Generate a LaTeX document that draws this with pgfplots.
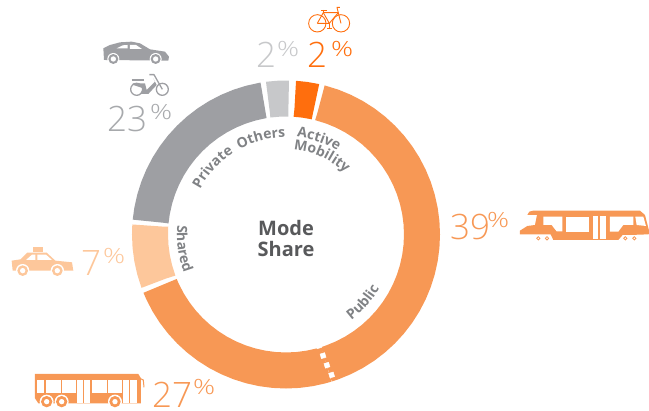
\documentclass[border=0pt]{standalone}
\usepackage{fontspec}
\usepackage{pgfplots}
\pgfplotsset{compat=1.18}
\usetikzlibrary{decorations.text}
\setmainfont{Open Sans}
\newfontfamily\lightf{Open Sans Light}
\definecolor{cActive}{HTML}{FF6E0D}
\definecolor{cPublic}{HTML}{F79855}
\definecolor{cShared}{HTML}{FDC79B}
\definecolor{cPrivate}{HTML}{9E9FA3}
\definecolor{cOthers}{HTML}{C7C8CA}
\definecolor{tPrivate}{HTML}{A7A9AC}
\definecolor{tLabel}{HTML}{808285}
\definecolor{tMode}{HTML}{58595B}
\newcommand\pnum[6]{%
  \node[anchor=base west,inner sep=0pt,text=#6,font=\lightf\fontsize{35}{35}\selectfont] at (#1,#2) {#3};
  \node[anchor=base west,inner sep=0pt,text=#6,font=\lightf\fontsize{21}{21}\selectfont] at (#4,#5) {\scalebox{1.3}[1]{\%}};}
\newcommand\arclabel[4]{%
  \path[decorate,decoration={text along path,text align=center,
    text={|\bfseries\fontsize{14}{14}\selectfont\color{tLabel}|#1}}]
    ([shift={(#2:#4pt)}]C) arc[start angle=#2,end angle=#3,radius=#4pt];}
\tikzset{
  zA/.style={x=.3333pt,y=-.3333pt,shift={(90pt,411pt)}},
  zB/.style={x=.3333pt,y=-.3333pt,shift={(440pt,221pt)}},
  zC/.style={x=.3333pt,y=-.3333pt,shift={(0pt,181pt)}},
}
\begin{document}
\begin{tikzpicture}
\path[use as bounding box] (0,0) rectangle (649pt,411pt);
\begin{axis}[at={(0,0)},anchor=south west,scale only axis,width=649pt,height=411pt,
  xmin=-286,xmax=363,ymin=-176.5,ymax=234.5,hide axis,clip=false]
% Active Mobility 2%
\addplot[cActive,line width=36pt,no marks,data cs=polar] coordinates {(86.2,136)(86,136)(82,136)(77.7,136)(77.5,136)};
% Public 39%
\addplot[cPublic,line width=36pt,no marks,data cs=polar] coordinates {(75.5,136)(75.3,136)(70,136)(65,136)(60,136)(55,136)(50,136)(45,136)(40,136)(35,136)(30,136)(25,136)(20,136)(15,136)(10,136)(5,136)(0,136)(-5,136)(-10,136)(-15,136)(-20,136)(-25,136)(-30,136)(-35,136)(-40,136)(-45,136)(-50,136)(-55,136)(-60,136)(-65,136)(-70,136)(-72.5,136)(-72.7,136)};
% Public 27%
\addplot[cPublic,line width=36pt,no marks,data cs=polar] coordinates {(-72.7,136)(-75,136)(-80,136)(-85,136)(-90,136)(-95,136)(-100,136)(-105,136)(-110,136)(-115,136)(-120,136)(-125,136)(-130,136)(-135,136)(-140,136)(-145,136)(-150,136)(-155,136)(-157.6,136)(-157.8,136)};
% Shared 7%
\addplot[cShared,line width=36pt,no marks,data cs=polar] coordinates {(-159.8,136)(-160,136)(-165,136)(-170,136)(-175,136)(-180,136)(-183.5,136)(-183.7,136)};
% Private 23%
\addplot[cPrivate,line width=36pt,no marks,data cs=polar] coordinates {(-185.5,136)(-185.7,136)(-190,136)(-195,136)(-200,136)(-205,136)(-210,136)(-215,136)(-220,136)(-225,136)(-230,136)(-235,136)(-240,136)(-245,136)(-250,136)(-255,136)(-260,136)(-260.3,136)(-260.5,136)};
% Others 2%
\addplot[cOthers,line width=36pt,no marks,data cs=polar] coordinates {(97.5,136)(97.3,136)(93,136)(89.1,136)(88.9,136)};
% divider
\addplot[only marks,mark=square*,mark size=2.4pt,white,mark options={fill=white,draw=white,rotate=17},data cs=polar] coordinates {(-73.6,116)(-73,126.7)(-72.6,137)(-72,147.7)};
\end{axis}
\coordinate (C) at (286pt,176.5pt);
\arclabel{Private}{154}{121}{97}
\arclabel{Others}{119}{90}{97}
\arclabel{Active}{85}{57}{98}
\arclabel{Mobility}{87}{44}{85}
\arclabel{Shared}{175}{201}{109}
\arclabel{Public}{-53}{-30}{108}
\begin{scope}[x=1pt,y=-1pt,shift={(0pt,411pt)}]
\node[align=center,text=tMode,inner sep=0pt,font=\bfseries\fontsize{20}{21.5}\selectfont] at (286,238.5) {Mode\\Share};
\pnum{450}{240}{39}{487}{228}{cPublic}
\pnum{152}{408}{27}{193}{395}{cPublic}
\pnum{81}{276}{7}{103}{264}{cShared}
\pnum{107}{132}{23}{150}{120}{tPrivate}
\pnum{256}{68}{2}{277}{57}{cOthers}
\pnum{307}{68}{2}{331}{57}{cActive}
\end{scope}
% bicycle
\begin{scope}[zA,cActive,line width=.9pt,line join=round]
\draw (682,70) circle[radius=26];
\draw (753,70) circle[radius=26];
\draw (682,70)--(700,38)--(745,38)--(753,70);
\draw (682,70)--(718,70)--(700,38);
\draw (718,70)--(745,38);
\draw (693,30)--(712,30);\draw (700,30)--(700,38);
\draw (745,38)--(741,22)--(750,22);
\draw (712,85)--(726,85);\draw (718,70)--(718,85);
\end{scope}
% car
\begin{scope}[zA]
\fill[cPrivate] (42,180)--(40,145)--(60,135)--(90,127)--(125,125)--(150,130)--(180,148)--(225,155)--(237,170)--(235,182)--cycle;
\fill[white] (80,145)--(98,136)--(113,135)--(113,145)--cycle;
\fill[white] (120,135)--(138,135)--(156,147)--(120,147)--cycle;
\foreach \x in {70,197}{\fill[white] (\x,177) circle[radius=18];
 \fill[cPrivate] (\x,177) circle[radius=15];\fill[white] (\x,177) circle[radius=8];}
\end{scope}
% scooter
\begin{scope}[zA,cPrivate,line width=1.3pt,line join=round]
\draw (140,268) circle[radius=18];
\draw (217,268) circle[radius=18];
\draw[line width=2pt] (125,240)--(162,240);
\fill (128,250)--(165,250)--(170,270)--(195,245)--(190,235)--(200,255)--(175,282)--(150,282)--(160,265)--(130,255)--cycle;
\draw (178,224)--(192,224)--(217,268);
\end{scope}
% taxi
\begin{scope}[zC,y=-.3333pt]
\fill[cShared] (98,50)--(130,50)--(130,66)--(98,66)--cycle;
\fill[cShared] (38,122)--(35,92)--(62,88)--(82,68)--(140,68)--(166,92)--(216,97)--(220,122)--cycle;
\fill[white] (78,90)--(96,74)--(106,74)--(106,90)--cycle;
\fill[white] (112,74)--(138,74)--(156,90)--(112,90)--cycle;
\foreach \x in {68,172}{\fill[white] (\x,122) circle[radius=20];
 \fill[cShared] (\x,122) circle[radius=16];\fill[white] (\x,122) circle[radius=8];}
\end{scope}
% bus
\begin{scope}[zC]
\fill[cPublic] (105,432)--(415,432)--(423,445)--(423,520)--(115,520)--(105,505)--cycle;
\fill[white] (112,450) rectangle (133,490);
\fill[white] (137,450) rectangle (182,490);
\fill[white] (186,450) rectangle (228,490);
\fill[white] (232,450) rectangle (250,520);
\fill[white] (253,450) rectangle (270,520);
\fill[white] (275,450) rectangle (320,490);
\fill[white] (323,450) rectangle (365,490);
\fill[white] (369,450) rectangle (388,520);
\fill[white] (391,450) rectangle (412,520);
\foreach \x in {140,185,345}{\fill[white] (\x,515) circle[radius=21];
 \fill[cPublic] (\x,515) circle[radius=17];\fill[white] (\x,515) circle[radius=8];}
\draw[cPublic,line width=1pt] (420,445)--(430,450)--(432,472);
\end{scope}
% tram
\begin{scope}[zB]
\fill[cPublic] (240,133)--(240,122)--(262,108)--(285,105)--(291,75)--(262,75)--(268,65)--(280,62)--(600,62)--(615,75)--(628,125)--(626,133)--(570,135)--(548,135)--(535,150)--(340,150)--(332,133)--cycle;
\fill[white] (310,80)--(367,80)--(367,124)--(350,124)--(335,105)--(310,105)--cycle;
\fill[white] (378,80) rectangle (447,125);
\fill[white] (459,78) rectangle (475,148);
\fill[white] (480,78) rectangle (497,148);
\fill[white] (510,80)--(580,80)--(580,105)--(550,105)--(535,125)--(510,125)--cycle;
\fill[white] (586,80)--(610,80)--(618,108)--(590,105)--cycle;
\foreach \x in {295,321,556,583}{\draw[cPublic,line width=.8pt,fill=white] (\x,145) circle[radius=5];}
\end{scope}
\end{tikzpicture}
\end{document}
